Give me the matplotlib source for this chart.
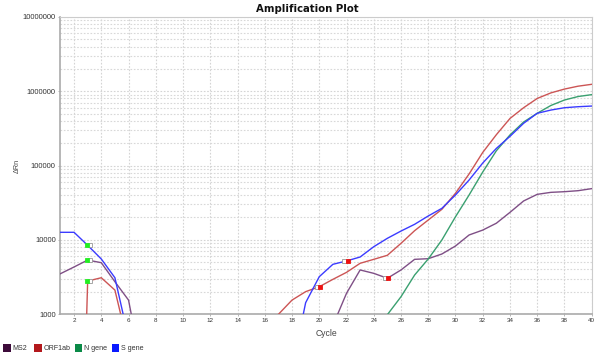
import matplotlib
matplotlib.use("Agg")
import matplotlib.pyplot as plt
from matplotlib.ticker import LogLocator, NullFormatter, FixedLocator
from matplotlib.patches import Rectangle
import matplotlib.transforms as mtrans

cycles = list(range(1, 41))

ms2 = [3490, 4300, 5330, 4910, 2720, 1540, 176, 100, 100, 100,
       100, 100, 100, 100, 100, 100, 100, 100, 100, 100,
       700, 1900, 3920, 3530, 3030, 3920, 5450, 5560, 6430, 8240,
       11600, 13500, 16700, 23400, 33300, 40900, 43500, 44400, 45800, 48800]

orf1ab = [0.0013, 0.0013, 2780, 3080, 2100, 360, 100, 100, 100, 100,
          100, 100, 100, 100, 100, 200, 990, 1540, 2000, 2330,
          2930, 3640, 4820, 5450, 6180, 8950, 13250, 18450, 25700, 42300,
          77000, 150000, 260000, 430000, 600000, 800000, 950000, 1070000, 1170000, 1240000]

n_gene = [100, 100, 100, 100, 100, 100, 100, 100, 100, 100,
          100, 100, 100, 100, 100, 100, 100, 100, 100, 100,
          100, 100, 100, 180, 980, 1710, 3350, 5510, 9930, 20400,
          40100, 81700, 158000, 258000, 385000, 505000, 643000, 762000, 849000, 900000]

s_gene = [12600, 12600, 8420, 5510, 3080, 475, 100, 100, 100, 100,
          100, 100, 100, 100, 100, 100, 100, 180, 1420, 3180,
          4670, 5180, 5860, 8060, 10460, 13100, 16150, 20900, 26500, 40100,
          63800, 108000, 170000, 247000, 370000, 505000, 558000, 600000, 619000, 632000]

series_names = ["MS2", "ORF1ab", "N gene", "S gene"]
series_values = [ms2, orf1ab, n_gene, s_gene]
line_colors = ["#7f4f86", "#cc5555", "#3aa070", "#3b3bff"]
legend_colors = ["#3d0b3a", "#b3181c", "#0a8a47", "#0a1aff"]

# Start (green) and end (red) markers: (series index, cycle)
start_markers = [(0, 3), (1, 3), (3, 3)]
end_markers = [(1, 20), (3, 22), (0, 25)]

x_ticks = list(range(2, 41, 2))
y_ticks = [1000, 10000, 100000, 1000000, 10000000]
y_tick_labels = ["1000", "10000", "100000", "1000000", "10000000"]

SANS = ["Liberation Sans", "DejaVu Sans"]

fig = plt.figure(figsize=(6.0, 3.57), dpi=100)
ax = fig.add_axes([0.1007, 0.1204, 0.8855, 0.832])

ax.set_yscale("log")
ax.set_xlim(1, 40)
ax.set_ylim(1000, 10000000)

for vals, col in zip(series_values, line_colors):
    ax.plot(cycles, vals, color=col, lw=1.0, zorder=3, solid_joinstyle="miter")

def add_marker(idx, cyc, face, edge, dx):
    val = series_values[idx][cyc - 1]
    tr = ax.transData + mtrans.ScaledTranslation(dx / 100.0, 0, fig.dpi_scale_trans)
    ax.plot([cyc], [val], marker="s", ms=3.2, mfc=face, mec=edge, mew=0.6,
            transform=tr, zorder=5, linestyle="none")

for idx, cyc in start_markers:
    add_marker(idx, cyc, "white", "#999999", 2.5)
    add_marker(idx, cyc, "#22ee22", "#22ee22", -1.0)
for idx, cyc in end_markers:
    add_marker(idx, cyc, "white", "#999999", -2.5)
    add_marker(idx, cyc, "#ee1111", "#ee1111", 1.0)

ax.xaxis.set_major_locator(FixedLocator(x_ticks))
ax.set_xticklabels([str(t) for t in x_ticks], fontfamily=SANS)
ax.yaxis.set_major_locator(FixedLocator(y_ticks))
ax.set_yticklabels(y_tick_labels, fontfamily=SANS)
ax.yaxis.set_minor_locator(LogLocator(base=10, subs=range(2, 10)))
ax.yaxis.set_minor_formatter(NullFormatter())

ax.grid(True, which="major", axis="both", color="#d4d4d4", lw=0.8, ls=(0, (1.5, 1.5)))
ax.grid(True, which="minor", axis="y", color="#d8d8d8", lw=0.8, ls=(0, (1.5, 1.5)))

ax.tick_params(axis="x", which="major", labelsize=4.5, labelcolor="#333333",
               color="#aaaaaa", length=1.5, width=0.6, pad=1.2)
ax.tick_params(axis="y", which="major", labelsize=5.5, labelcolor="#333333",
               color="#aaaaaa", length=1.5, width=0.6, pad=1.8)
ax.tick_params(axis="y", which="minor", length=0)

for side in ["top", "right"]:
    ax.spines[side].set_color("#cccccc")
    ax.spines[side].set_linewidth(0.8)
for side in ["left", "bottom"]:
    ax.spines[side].set_color("#aaaaaa")
    ax.spines[side].set_linewidth(1.2)

ax.set_xlabel("Cycle", fontsize=6.2, color="#444444", fontfamily=SANS)
ax.xaxis.set_label_coords(0.5, -0.05)
ax.set_ylabel("ΔRn", fontsize=5.2, color="#444444", fontfamily=SANS)
ax.yaxis.set_label_coords(-0.074, 0.5)

fig.text(0.5125, 0.975, "Amplification Plot", ha="center", va="center",
         fontsize=7.3, fontweight="bold", color="#111111")

# legend at bottom-left
leg_x = [3.3, 34.3, 75, 111.7]
for name, col, lx in zip(series_names, legend_colors, leg_x):
    fig.patches.append(Rectangle((lx / 600.0, 1 - 351.7 / 357.0), 7.4 / 600.0, 7.4 / 357.0,
                                 transform=fig.transFigure, facecolor=col,
                                 edgecolor="none", figure=fig))
    fig.text((lx + 9.3) / 600.0, 1 - 348.3 / 357.0, name, ha="left", va="center",
             fontsize=5.1, color="#333333", fontfamily=SANS)

fig.savefig("out.png", dpi=100)
